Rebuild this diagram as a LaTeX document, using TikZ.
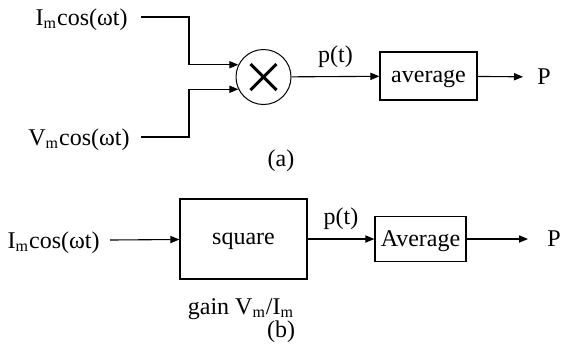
\documentclass[tikz,border=0pt]{standalone}
\usepackage{fontspec}
\setmainfont{Liberation Serif}
\usetikzlibrary{arrows.meta, positioning, calc}

\begin{document}
\begin{tikzpicture}[
  x=0.5pt, y=-0.5pt,
  font=\fontsize{12}{14}\selectfont,
  sig/.style={line width=0.55pt, -{Triangle[length=4.5pt, width=3.6pt]}},
  blockbox/.style={draw, line width=0.6pt, inner sep=0pt, text depth=0pt},
  sigtext/.style={inner sep=0pt, text depth=0pt},
]
  \useasboundingbox (0,0) rectangle (561,350);

  % ── (a) multiplier ──
  \node[sigtext, anchor=east, inner xsep=6.5pt] (ia) at (141,17) {I\textsubscript{m}cos(ωt)};
  \node[sigtext, anchor=east, inner xsep=5.5pt] (va) at (141,137) {V\textsubscript{m}cos(ωt)};
  \node[draw, circle, line width=0.5pt, minimum size=27.5pt, inner sep=0pt] (mult) at (263.5,77) {};
  \draw[line width=1.5pt] ($(mult.center)+(-13,-13)$) -- ($(mult.center)+(13,13)$);
  \draw[line width=1.5pt] ($(mult.center)+(-13,13)$) -- ($(mult.center)+(13,-13)$);
  \coordinate (jia) at (189,40);
  \coordinate (jva) at (189,112);
  \draw[sig] (ia.east) -| (jia) |- (mult.154);
  \draw[sig] (va.east) -| (jva) |- (mult.206);

  \node[blockbox, minimum width=48.5pt, minimum height=24pt] (avga) at (428.5,76) {average};
  \node[sigtext, anchor=west, inner xsep=7pt] (pa) at (523,77) {P};
  \draw[sig] (mult) -- node[midway, above=1pt] {p(t)} (avga);
  \draw[sig] (avga) -- (pa);
  \node (capa) at (281,161) {(a)};

  % ── (b) squarer ──
  \node[sigtext, anchor=east, inner xsep=5pt] (ib) at (110,240) {I\textsubscript{m}cos(ωt)};
  \node[blockbox, minimum width=63.5pt, minimum height=40pt] (sq) at (243.5,239) {square};
  \node[blockbox, minimum width=45.5pt, minimum height=22.5pt] (avgb) at (420.5,239) {Average};
  \node[sigtext, anchor=west, inner xsep=9.5pt] (pb) at (528,239) {P};
  \draw[sig] (ib.east) -- (sq);
  \draw[sig] (sq) -- node[midway, above=1pt] {p(t)} (avgb);
  \draw[sig] (avgb) -- (pb);
  \node (gain) at (241,309) {gain V\textsubscript{m}/I\textsubscript{m}};
  \node (capb) at (281,332) {(b)};

\end{tikzpicture}
\end{document}
